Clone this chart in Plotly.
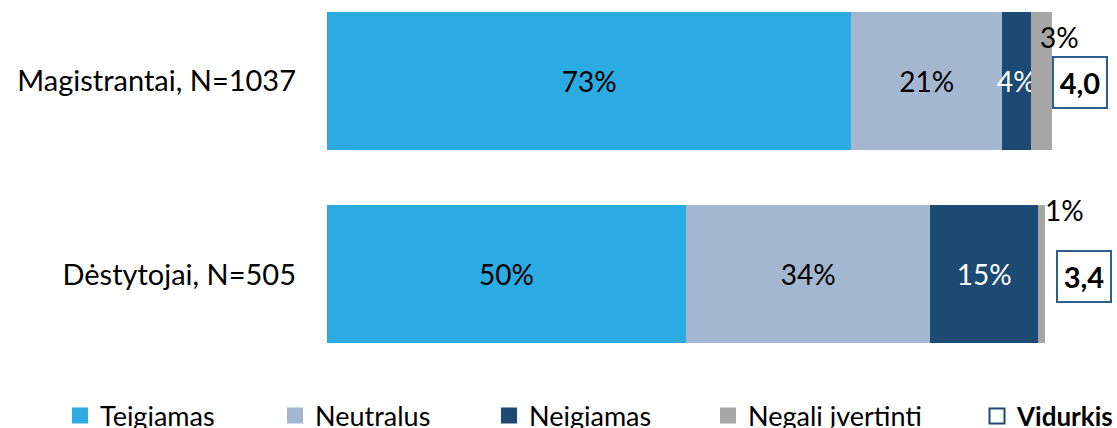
import plotly.graph_objects as go

categories = ["Magistrantai, N=1037", "Dėstytojai, N=505"]
teigiamas = [73, 50]
neutralus = [21, 34]
neigiamas = [4, 15]
negali = [3, 1]
vidurkis = [4.0, 3.4]

series = [
    ("Teigiamas", teigiamas, "#2CAAE2", "black"),
    ("Neutralus", neutralus, "#A3B8D0", "black"),
    ("Neigiamas", neigiamas, "#1C4A72", "white"),
    ("Negali įvertinti", negali, "#A6A6A6", "black"),
]
legend_x = [-0.338, -0.0658, 0.2051, 0.4823, 0.8228]
LEG_Y = -0.1027

FONT = "Lato, 'Liberation Sans', sans-serif"
fig = go.Figure()
for k, (name, vals, color, tcolor) in enumerate(series):
    show_text = name != "Negali įvertinti"
    fig.add_trace(go.Bar(
        y=categories, x=vals, name=name, orientation="h",
        marker=dict(color=color, line=dict(width=0)),
        text=[f"{v}%" for v in vals] if show_text else None,
        texttemplate="%{text}" if show_text else None,
        textposition="inside", insidetextanchor="middle", textangle=0,
        constraintext="none",
        insidetextfont=dict(color=tcolor, size=28, family=FONT),
        width=0.713, showlegend=False,
        hoverinfo="skip",
    ))
    lid = "legend" if k == 0 else f"legend{k + 1}"
    fig.add_trace(go.Scatter(
        x=[None], y=[None], mode="markers", name=name,
        marker=dict(symbol="square", size=16, color=color),
        legend=lid, showlegend=True,
    ))

# Vidurkis legend entry
fig.add_trace(go.Scatter(
    x=[None], y=[None], mode="markers", name="<b>Vidurkis</b>",
    marker=dict(symbol="square-open", size=15, color="#1C4A72", line=dict(width=2)),
    legend="legend5", showlegend=True,
))

# outside labels for small gray segments, and Vidurkis boxes
xshifts = [-14, -2]
yshifts = [44, 64]
box_xshift = [-1, 3]
for i, cat in enumerate(categories):
    end = teigiamas[i] + neutralus[i] + neigiamas[i] + negali[i]
    fig.add_annotation(x=end, y=cat, text=f"{negali[i]}%", showarrow=False,
                       xanchor="left", xshift=xshifts[i], yshift=yshifts[i],
                       font=dict(size=28, family=FONT, color="black"))
    fig.add_annotation(x=105.0, y=cat, text="<b>" + f"{vidurkis[i]:.1f}".replace(".", ",") + "</b>",
                       showarrow=False, yshift=-2, xshift=box_xshift[i],
                       width=44, height=41, align="center", valign="middle",
                       font=dict(size=29, family=FONT, color="black"),
                       bordercolor="#2F5F8F", borderwidth=2, borderpad=4, bgcolor="white")

legends = {}
for k, lx in enumerate(legend_x):
    lid = "legend" if k == 0 else f"legend{k + 1}"
    legends[lid] = dict(orientation="h", x=lx, y=LEG_Y, xanchor="left", yanchor="middle",
                        itemwidth=30, font=dict(size=27 if k < 4 else 26, family=FONT),
                        bgcolor="rgba(0,0,0,0)", borderwidth=0)

fig.update_layout(
    barmode="stack",
    width=1117, height=428,
    margin=dict(l=327, r=0, t=8, b=50, autoexpand=False),
    paper_bgcolor="white", plot_bgcolor="white",
    font=dict(family=FONT, size=28, color="black"),
    xaxis=dict(range=[0, 110], visible=False, showgrid=False, zeroline=False),
    yaxis=dict(range=[1.535, -0.377], showgrid=False, zeroline=False, showline=False,
               ticks="", ticklabelstandoff=30, tickfont=dict(size=29, family=FONT)),
    showlegend=True,
    **legends,
)

fig.write_html("out.html", config={"displayModeBar": False},
               post_script="document.body.style.margin='0';document.body.style.overflow='hidden';")
